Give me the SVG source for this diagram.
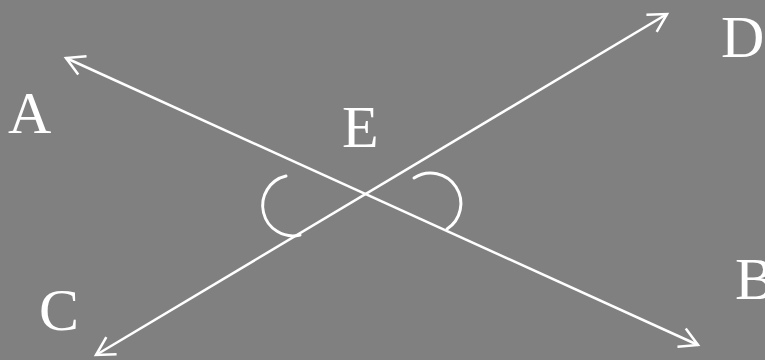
<svg xmlns="http://www.w3.org/2000/svg" width="765" height="360" viewBox="0 0 765 360">
<style>
.ln{stroke:#fff;stroke-width:2.5;fill:none}
.arc{stroke:#fff;stroke-width:3;fill:none;stroke-linecap:round}
.lbl{font-family:"Liberation Serif","Times New Roman",serif;font-size:60px;fill:#fff}
</style>
<defs>
<marker id="arr" markerUnits="userSpaceOnUse" markerWidth="30" markerHeight="30" refX="0" refY="0" viewBox="-22 -15 30 30" orient="auto-start-reverse" overflow="visible">
<path d="M-18,-10 L0,0 L-18,10" fill="none" stroke="#fff" stroke-width="2.5" stroke-linejoin="miter"/>
</marker>
</defs>
<rect width="765" height="360" fill="#808080"/>
<g id="connectors">
<line id="AB" class="ln" x1="66" y1="58" x2="698" y2="345" marker-start="url(#arr)" marker-end="url(#arr)"/>
<line id="DC" class="ln" x1="667" y1="14" x2="96" y2="355" marker-start="url(#arr)" marker-end="url(#arr)"/>
</g>
<g id="angles">
<path class="arc" d="M286,176 A30,30 0 0 0 300,235"/>
<path class="arc" d="M414,178 A30,30 0 1 1 447,229"/>
</g>
<g id="A"><text class="lbl" x="8" y="133">A</text></g>
<g id="E"><text class="lbl" x="342" y="147">E</text></g>
<g id="D"><text class="lbl" x="721" y="57">D</text></g>
<g id="B"><text class="lbl" x="735" y="299">B</text></g>
<g id="C"><text class="lbl" x="39" y="330">C</text></g>
</svg>
